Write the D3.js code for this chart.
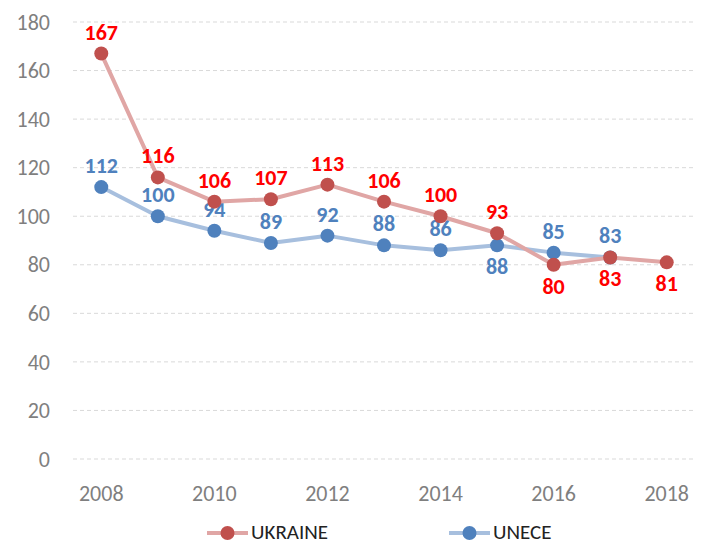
<!DOCTYPE html>
<html>
<head>
<meta charset="utf-8">
<script src="https://cdn.jsdelivr.net/npm/d3@7"></script>
<style>
  body { margin: 0; background: #fff; }
  svg { font-family: Carlito, Calibri, Lato, sans-serif; }
</style>
</head>
<body>
<div id="chart"></div>
<script>
// data
var years = [2008, 2009, 2010, 2011, 2012, 2013, 2014, 2015, 2016, 2017, 2018];
var ukraine = [167, 116, 106, 107, 113, 106, 100, 93, 80, 83, 81];
var unece = [112, 100, 94, 89, 92, 88, 86, 88, 85, 83, null];
var ukraineBelow = [2016, 2017, 2018];
var uneceBelow = [2015];
var yTicks = [0, 20, 40, 60, 80, 100, 120, 140, 160, 180];

var W = 705, H = 545;
var margin = {top: 22, right: 10, bottom: 86, left: 73};

var svg = d3.select("#chart")
    .append("svg")
    .attr("width", W)
    .attr("height", H);

var x = d3.scaleBand()
    .domain(years)
    .range([margin.left, W - margin.right]);

var y = d3.scaleLinear()
    .domain([0, 180])
    .range([H - margin.bottom, margin.top]);

var cx = function(yr) { return x(yr) + x.bandwidth() / 2; };

// gridlines
svg.append("g")
    .selectAll("line")
    .data(yTicks)
    .enter()
    .append("line")
    .attr("x1", margin.left)
    .attr("x2", W - margin.right)
    .attr("y1", function(d) { return y(d); })
    .attr("y2", function(d) { return y(d); })
    .attr("stroke", "#d9d9d9")
    .attr("stroke-width", 1)
    .attr("stroke-dasharray", "4,3");

// y axis labels
svg.append("g")
    .selectAll("text")
    .data(yTicks)
    .enter()
    .append("text")
    .attr("x", margin.left - 23)
    .attr("y", function(d) { return y(d); })
    .attr("dy", "0.35em")
    .attr("text-anchor", "end")
    .attr("fill", "#7f7f7f")
    .style("font-size", "22px")
    .text(function(d) { return d; });

// x axis labels
svg.append("g")
    .selectAll("text")
    .data(years.filter(function(d) { return d % 2 === 0; }))
    .enter()
    .append("text")
    .attr("x", function(d) { return cx(d); })
    .attr("y", H - margin.bottom + 42)
    .attr("text-anchor", "middle")
    .attr("fill", "#7f7f7f")
    .style("font-size", "22px")
    .text(function(d) { return d; });

function drawSeries(vals, lineColor, dotColor, labelColor, below) {
    var pts = years.map(function(yr, i) { return {year: yr, v: vals[i]}; })
        .filter(function(d) { return d.v != null; });

    var line = d3.line()
        .x(function(d) { return cx(d.year); })
        .y(function(d) { return y(d.v); });

    svg.append("path")
        .datum(pts)
        .attr("d", line)
        .attr("fill", "none")
        .attr("stroke", lineColor)
        .attr("stroke-width", 4)
        .attr("stroke-linejoin", "round");

    svg.append("g")
        .selectAll("circle")
        .data(pts)
        .enter()
        .append("circle")
        .attr("cx", function(d) { return cx(d.year); })
        .attr("cy", function(d) { return y(d.v); })
        .attr("r", 7)
        .attr("fill", dotColor);

    svg.append("g")
        .selectAll("text")
        .data(pts)
        .enter()
        .append("text")
        .attr("x", function(d) { return cx(d.year); })
        .attr("y", function(d) {
            return below.indexOf(d.year) >= 0 ? y(d.v) + 29 : y(d.v) - 14;
        })
        .attr("text-anchor", "middle")
        .attr("fill", labelColor)
        .style("font-size", "22px")
        .style("font-weight", "bold")
        .text(function(d) { return d.v; });
}

drawSeries(unece, "#a7bfde", "#4f81bd", "#4f81bd", uneceBelow);
drawSeries(ukraine, "#e0a6a5", "#c0504d", "#ff0000", ukraineBelow);

// legend
var legend = [
    {name: "UKRAINE", line: "#e0a6a5", dot: "#c0504d", x: 207},
    {name: "UNECE", line: "#a7bfde", dot: "#4f81bd", x: 449}
];
var ly = 533;
var lg = svg.append("g")
    .selectAll("g")
    .data(legend)
    .enter()
    .append("g");
lg.append("line")
    .attr("x1", function(d) { return d.x; })
    .attr("x2", function(d) { return d.x + 41; })
    .attr("y1", ly)
    .attr("y2", ly)
    .attr("stroke", function(d) { return d.line; })
    .attr("stroke-width", 4);
lg.append("circle")
    .attr("cx", function(d) { return d.x + 20.5; })
    .attr("cy", ly)
    .attr("r", 7)
    .attr("fill", function(d) { return d.dot; });
lg.append("text")
    .attr("x", function(d) { return d.x + 44; })
    .attr("y", 539)
    .attr("fill", "#222")
    .style("font-size", "21px")
    .text(function(d) { return d.name; });
</script>
</body>
</html>
